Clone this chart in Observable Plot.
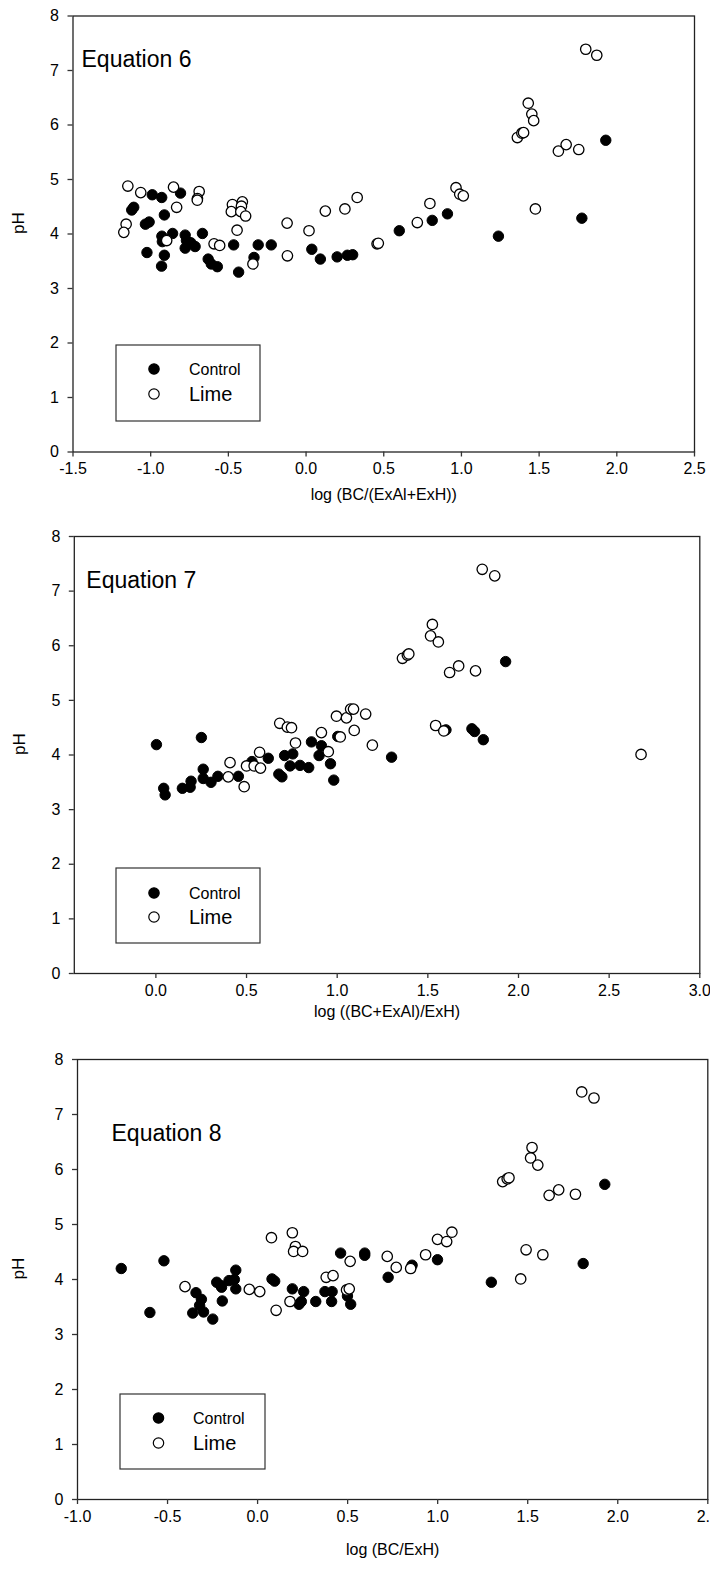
<!DOCTYPE html>
<html>
<head>
<meta charset="utf-8">
<script src="https://cdn.jsdelivr.net/npm/d3@7"></script>
<script src="https://cdn.jsdelivr.net/npm/@observablehq/plot@0.6"></script>
<style>
  body { margin: 0; background: #fff; }
  #wrap { position: relative; width: 710px; height: 1579px; overflow: hidden; background: #fff; }
  .panel { position: absolute; left: 0; }
  .panel svg { overflow: visible; }
  .legend { position: absolute; }
</style>
</head>
<body>
<div id="wrap"></div>
<script>
// ---------- DATA ----------
const yTicks = [0, 1, 2, 3, 4, 5, 6, 7, 8];
const eq6Ticks = [-1.5, -1.0, -0.5, 0.0, 0.5, 1.0, 1.5, 2.0, 2.5];
const eq7Ticks = [0.0, 0.5, 1.0, 1.5, 2.0, 2.5, 3.0];
const eq8Ticks = [-1.0, -0.5, 0.0, 0.5, 1.0, 1.5, 2.0, 2.5];
const seriesNames = ["Control", "Lime"];

// Equation 6: x = log (BC/(ExAl+ExH)), y = pH
const eq6Control = [
  [-0.99,4.72],[-0.929,4.67],[-0.808,4.75],[-1.122,4.44],[-1.109,4.49],[-0.912,4.35],
  [-1.034,4.18],[-1.01,4.22],[-0.928,3.96],[-0.859,4.01],[-0.925,3.86],[-1.024,3.66],
  [-0.912,3.61],[-0.93,3.41],[-0.778,3.98],[-0.77,3.88],[-0.742,3.84],[-0.778,3.74],
  [-0.714,3.77],[-0.667,4.01],[-0.63,3.54],[-0.61,3.45],[-0.571,3.40],[-0.466,3.80],
  [-0.434,3.30],[-0.335,3.57],[-0.308,3.80],[-0.224,3.80],[0.037,3.72],[0.092,3.54],
  [0.20,3.58],[0.266,3.61],[0.30,3.62],[0.60,4.06],[0.812,4.25],[0.91,4.37],
  [1.238,3.96],[1.775,4.29],[1.929,5.72]
];
const eq6Lime = [
  [-1.147,4.88],[-1.064,4.76],[-0.853,4.86],[-0.688,4.78],[-0.699,4.65],[-0.70,4.62],
  [-0.833,4.49],[-1.158,4.18],[-1.173,4.03],[-0.897,3.88],[-0.474,4.54],[-0.41,4.59],
  [-0.416,4.51],[-0.481,4.41],[-0.42,4.41],[-0.389,4.33],[-0.444,4.07],[-0.592,3.82],
  [-0.556,3.79],[-0.342,3.45],[-0.122,4.20],[-0.12,3.60],[0.019,4.06],[0.124,4.42],
  [0.25,4.46],[0.329,4.67],[0.457,3.82],[0.465,3.83],[0.716,4.21],[0.797,4.56],
  [0.965,4.85],[0.989,4.73],[1.012,4.70],[1.36,5.77],[1.389,5.85],[1.40,5.86],
  [1.43,6.40],[1.453,6.20],[1.465,6.08],[1.476,4.46],[1.624,5.52],[1.674,5.64],
  [1.755,5.55],[1.80,7.39],[1.871,7.28]
];

// Equation 7: x = log ((BC+ExAl)/ExH)
const eq7Control = [
  [0.003,4.19],[0.043,3.39],[0.051,3.27],[0.146,3.39],[0.189,3.41],[0.194,3.52],
  [0.251,4.32],[0.261,3.74],[0.261,3.57],[0.304,3.50],[0.342,3.61],[0.455,3.61],
  [0.53,3.88],[0.62,3.94],[0.678,3.65],[0.695,3.60],[0.71,3.99],[0.74,3.80],
  [0.755,4.02],[0.795,3.81],[0.843,3.77],[0.858,4.24],[0.90,3.99],[0.913,4.17],
  [0.963,3.84],[0.981,3.54],[1.003,4.34],[1.30,3.96],[1.60,4.46],[1.743,4.48],
  [1.758,4.43],[1.806,4.28],[1.929,5.71]
];
const eq7Lime = [
  [1.80,7.40],[1.869,7.28],[1.525,6.39],[1.515,6.18],[1.558,6.07],[1.36,5.77],
  [1.387,5.83],[1.395,5.85],[1.62,5.51],[1.67,5.63],[1.763,5.54],[1.543,4.54],
  [1.588,4.44],[0.683,4.58],[0.725,4.51],[0.748,4.50],[0.996,4.71],[1.051,4.68],
  [1.074,4.84],[1.09,4.84],[1.157,4.75],[1.017,4.33],[1.094,4.45],[0.913,4.41],
  [0.77,4.22],[1.194,4.18],[0.951,4.06],[0.572,4.05],[2.676,4.01],[0.409,3.86],
  [0.399,3.60],[0.487,3.42],[0.50,3.80],[0.542,3.80],[0.577,3.76]
];

// Equation 8: x = log (BC/ExH)
const eq8Control = [
  [-0.757,4.20],[-0.52,4.34],[1.928,5.73],[1.808,4.29],[1.298,3.95],[0.999,4.36],
  [0.858,4.26],[0.725,4.04],[0.595,4.48],[0.595,4.44],[0.461,4.48],[-0.121,4.17],
  [0.08,4.01],[0.095,3.97],[-0.227,3.95],[-0.204,3.89],[-0.159,3.98],[-0.121,3.83],
  [-0.129,4.00],[-0.342,3.76],[-0.598,3.40],[-0.36,3.39],[-0.312,3.64],[-0.322,3.53],
  [-0.30,3.41],[-0.249,3.28],[-0.196,3.61],[-0.20,3.86],[0.193,3.83],[0.256,3.78],
  [0.23,3.55],[0.243,3.60],[0.323,3.60],[0.374,3.78],[0.414,3.78],[0.411,3.60],
  [0.517,3.55],[0.499,3.70]
];
const eq8Lime = [
  [1.80,7.41],[1.868,7.30],[1.524,6.40],[1.516,6.21],[1.556,6.08],[1.361,5.78],
  [1.386,5.83],[1.396,5.85],[1.619,5.53],[1.672,5.63],[1.765,5.55],[1.491,4.54],
  [1.584,4.45],[1.461,4.01],[0.077,4.76],[0.193,4.85],[0.21,4.60],[0.20,4.51],
  [0.25,4.51],[0.514,4.33],[0.72,4.42],[0.77,4.22],[0.85,4.20],[0.933,4.45],
  [0.999,4.73],[1.05,4.69],[1.079,4.86],[0.381,4.04],[0.419,4.07],[-0.403,3.87],
  [-0.046,3.82],[0.012,3.78],[0.103,3.44],[0.18,3.60],[0.494,3.81],[0.509,3.83]
];

// ---------- LAYOUT ----------
const FONT = '"Liberation Sans", Arial, Helvetica, sans-serif';
const wrap = document.getElementById("wrap");
wrap.style.fontFamily = FONT;

function panel(cfg) {
  const W = 710;
  const chart = Plot.plot({
    width: W,
    height: cfg.height,
    marginLeft: cfg.left,
    marginRight: W - cfg.right,
    marginTop: cfg.frameTop - cfg.top,
    marginBottom: cfg.top + cfg.height - cfg.frameBottom,
    style: { fontFamily: FONT, background: "transparent", overflow: "visible", color: "#000" },
    x: { domain: cfg.xDomain },
    y: { domain: [0, 8] },
    marks: [
      Plot.frame({ stroke: "#222", strokeWidth: 1.3 }),
      Plot.axisY({ ticks: yTicks, tickSize: 5, tickPadding: 9, fontSize: 16,
                   tickFormat: d => String(d), label: null, stroke: "#333", strokeWidth: 1.3 }),
      Plot.axisX({ ticks: cfg.xTicks, tickSize: 5, tickPadding: 6, fontSize: 16,
                   tickFormat: d => d.toFixed(1), label: null, stroke: "#333", strokeWidth: 1.3 }),
      Plot.dot(cfg.control, { x: d => d[0], y: d => d[1], r: 5.2, fill: "#000", stroke: "#000", strokeWidth: 1 }),
      Plot.dot(cfg.lime, { x: d => d[0], y: d => d[1], r: 5.2, fill: "#fff", stroke: "#000", strokeWidth: 1.3 }),
      Plot.text([cfg.title], { frameAnchor: "top-left", textAnchor: "start", lineAnchor: "middle",
                               dx: cfg.titleDx, dy: cfg.titleDy, fontSize: 23, fill: "#000" }),
      Plot.text([cfg.xLabel], { frameAnchor: "bottom", lineAnchor: "middle", dy: cfg.xLabelDy,
                                fontSize: 16, fill: "#000" }),
      Plot.text(["pH"], { frameAnchor: "left", lineAnchor: "middle", rotate: -90, dx: -cfg.pHDx,
                          fontSize: 17, fill: "#000" })
    ]
  });
  const div = document.createElement("div");
  div.className = "panel";
  div.style.top = cfg.top + "px";
  div.appendChild(chart);
  wrap.appendChild(div);

  // legend box
  const L = cfg.legend;
  const svg = d3.create("svg")
    .attr("class", "legend")
    .attr("width", L.x1 - L.x0 + 2)
    .attr("height", L.y1 - L.y0 + 2)
    .style("left", (L.x0 - 1) + "px")
    .style("top", (L.y0 - 1) + "px")
    .style("position", "absolute")
    .style("font-family", FONT);
  svg.append("rect").attr("x", 1).attr("y", 1)
    .attr("width", L.x1 - L.x0).attr("height", L.y1 - L.y0)
    .attr("fill", "#fff").attr("stroke", "#333").attr("stroke-width", 1.2);
  const rows = [
    { name: seriesNames[0], y: L.row1, fill: "#000", size: 16 },
    { name: seriesNames[1], y: L.row2, fill: "#fff", size: 20 }
  ];
  for (const r of rows) {
    svg.append("circle").attr("cx", L.dotX - L.x0 + 1).attr("cy", r.y - L.y0 + 1).attr("r", 5.2)
      .attr("fill", r.fill).attr("stroke", "#000").attr("stroke-width", 1.2);
    svg.append("text").attr("x", L.textX - L.x0 + 1).attr("y", r.y - L.y0 + 1)
      .attr("dy", "0.36em").attr("font-size", r.size).attr("fill", "#000").text(r.name);
  }
  wrap.appendChild(svg.node());
}

panel({
  top: 0, height: 530, frameTop: 15.5, frameBottom: 451.5, left: 72.5, right: 694,
  xDomain: [-1.5, 2.5], xTicks: eq6Ticks, control: eq6Control, lime: eq6Lime,
  title: "Equation 6", titleDx: 8.5, titleDy: 44, xLabel: "log (BC/(ExAl+ExH))", xLabelDy: 43, pHDx: 54,
  legend: { x0: 116, x1: 260, y0: 345, y1: 421, dotX: 154, textX: 189, row1: 369, row2: 394 }
});
panel({
  top: 530, height: 522, frameTop: 536, frameBottom: 973, left: 73.8, right: 699.3,
  xDomain: [-0.45, 3.0], xTicks: eq7Ticks, control: eq7Control, lime: eq7Lime,
  title: "Equation 7", titleDx: 12, titleDy: 44, xLabel: "log ((BC+ExAl)/ExH)", xLabelDy: 38, pHDx: 55,
  legend: { x0: 116, x1: 260, y0: 868, y1: 943, dotX: 154, textX: 189, row1: 893, row2: 917 }
});
panel({
  top: 1052, height: 527, frameTop: 1059, frameBottom: 1499, left: 77, right: 707.3,
  xDomain: [-1.0, 2.5], xTicks: eq8Ticks, control: eq8Control, lime: eq8Lime,
  title: "Equation 8", titleDx: 34, titleDy: 74, xLabel: "log (BC/ExH)", xLabelDy: 50, pHDx: 59,
  legend: { x0: 120, x1: 265, y0: 1394, y1: 1469, dotX: 158.5, textX: 193, row1: 1418, row2: 1443 }
});
</script>
</body>
</html>
